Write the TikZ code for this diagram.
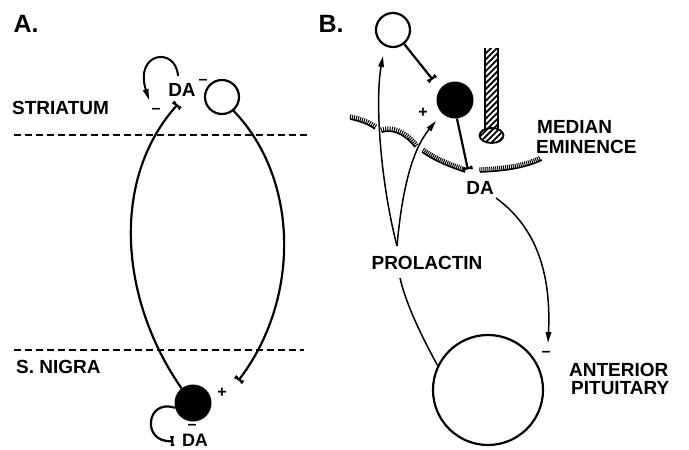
\documentclass[tikz,border=0pt]{standalone}
\usepackage{fontspec}
\setmainfont{Liberation Sans}
\usetikzlibrary{arrows.meta,decorations.pathreplacing,patterns.meta}

\begin{document}
\begin{tikzpicture}[x=1pt,y=-1pt,
  lbl/.style={font=\bfseries\fontsize{19}{19}\selectfont, inner sep=0pt},
  big/.style={font=\bfseries\fontsize{25}{25}\selectfont, inner sep=0pt},
  sgn/.style={font=\bfseries\fontsize{16}{16}\selectfont, inner sep=0pt},
  open cell/.style={circle, draw, line width=2.2pt, fill=white, inner sep=0pt, minimum size=#1},
  dark cell/.style={circle, fill=black, inner sep=0pt, minimum size=#1},
  axon/.style={line width=2.2pt},
  fiber/.style={line width=1.5pt},
  synapse/.style={-{Tee Barb[width=10pt,length=3.5pt,line width=2.2pt]}},
  arrowtip/.style={-{Triangle[length=11pt,width=5.5pt]}},
  level/.style={line width=1.2pt, dash pattern=on 7pt off 4pt},
  surface line/.style={line width=1.6pt},
  surface ticks/.style={decorate, decoration={ticks, segment length=2pt, amplitude=2.2pt, raise=2.5pt}, line width=1pt},
  vessel hatch/.style={pattern={Lines[angle=45,distance=4.2pt,line width=1.8pt]}},
]
\useasboundingbox (0,0) rectangle (689,450);

% ---------------- panel A: nigrostriatal loop ----------------
\node[big] (labA) at (26,24) {A.};

\draw[level] (14,135) -- (310,135);
\draw[level] (14,350) -- (304,350);
\node[lbl, anchor=west] (str) at (12,108) {STRIATUM};
\node[lbl, anchor=west] (sn) at (16,367) {S. NIGRA};

\node[open cell=34pt] (cA) at (222,97) {};
\node[dark cell=37pt] (sA) at (193,403) {};

\coordinate (tA1) at (178,104);
\coordinate (tA2) at (238,381);
\draw[axon, synapse] (sA.128) .. controls (120,300) and (110,180) .. (tA1);
\draw[axon, synapse] (cA.-50) .. controls (300,180) and (300,300) .. (tA2);

% autoreceptor feedback at the striatal terminal
\node[lbl] (daA1) at (182,90) {DA};
\node[sgn] (mA1) at (203,82) {\textendash};
\coordinate (lpA1) at (178,76);
\coordinate (lpA2) at (149,100);
\draw[line width=2pt, arrowtip] (lpA1) .. controls (176,46) and (134,52) .. (lpA2);
\node[sgn] (mA2) at (156,111) {\textendash};

% autoreceptor feedback at the cell body
\coordinate (lbA) at (174,441);
\draw[axon, synapse] (sA.195) .. controls (146,398) and (141,443) .. (lbA);
\node[sgn] (mA3) at (192,427) {\textendash};
\node[font=\bfseries\fontsize{18}{18}\selectfont, inner sep=0pt] (daA2) at (195,440) {DA};
\node[sgn] (pA) at (222,393) {+};

% ---------------- panel B: tuberoinfundibular loop ----------------
\node[big] (labB) at (331,24) {B.};

\node[open cell=34pt] (cB) at (393,30) {};
\node[dark cell=37pt] (sB) at (455,100) {};
\coordinate (tB1) at (433,80);
\coordinate (tB2) at (468,170);
\draw[axon, synapse] (cB) -- (tB1);
\draw[axon, synapse] (sB.-84) -- (tB2);
\node[sgn] (pB) at (423,113) {+};
\node[lbl] (daB) at (480,188) {DA};

% portal vessel
\fill[vessel hatch] (485,48) rectangle (498,131);
\draw[line width=1.8pt] (485,48) -- (485,131);
\draw[line width=1.8pt] (498,48) -- (498,131);
\fill[white] (491.5,135.5) ellipse [x radius=12, y radius=7.5];
\fill[vessel hatch] (491.5,135.5) ellipse [x radius=12, y radius=7.5];
\draw[line width=1.8pt] (491.5,135.5) ellipse [x radius=12, y radius=7.5];

% median eminence surface
\foreach \seg in {
  {(350,119) .. controls (360,121) and (368,124) .. (375,129)},
  {(382,132) .. controls (396,128) and (408,138) .. (415,147)},
  {(422,152) .. controls (435,161) and (450,167) .. (465,172)},
  {(480,172) .. controls (505,171) and (525,168) .. (542,160)}} {
  \draw[surface line] \seg;
  \draw[surface ticks] \seg;
}
\node[lbl, anchor=west] (me1) at (537,127) {MEDIAN};
\node[lbl, anchor=west] (me2) at (536,147) {EMINENCE};

% pituitary and prolactin feedback
\node[circle, draw, line width=2.2pt, inner sep=0pt, minimum size=110pt] (pit) at (488,390) {};
\node[lbl, anchor=west] (ap1) at (569,370) {ANTERIOR};
\node[lbl, anchor=west] (ap2) at (571,388) {PITUITARY};

\node[lbl] (prl) at (427,263) {PROLACTIN};
\coordinate (prlTop) at (397,246);
\coordinate (prlBot) at (400,278);
\draw[fiber] (pit.154) .. controls (418,330) and (405,300) .. (prlBot);
\coordinate (aL) at (383,56);
\coordinate (aR) at (436,121);
\draw[fiber, arrowtip] (prlTop) .. controls (380,180) and (375,100) .. (aL);
\draw[fiber, arrowtip] (prlTop) .. controls (402,190) and (412,150) .. (aR);

\coordinate (daS) at (496,198);
\coordinate (daE) at (548,343);
\draw[fiber, arrowtip] (daS) .. controls (540,230) and (551,280) .. (daE);
\node[sgn] (mB) at (546,354) {\textendash};
\end{tikzpicture}
\end{document}
